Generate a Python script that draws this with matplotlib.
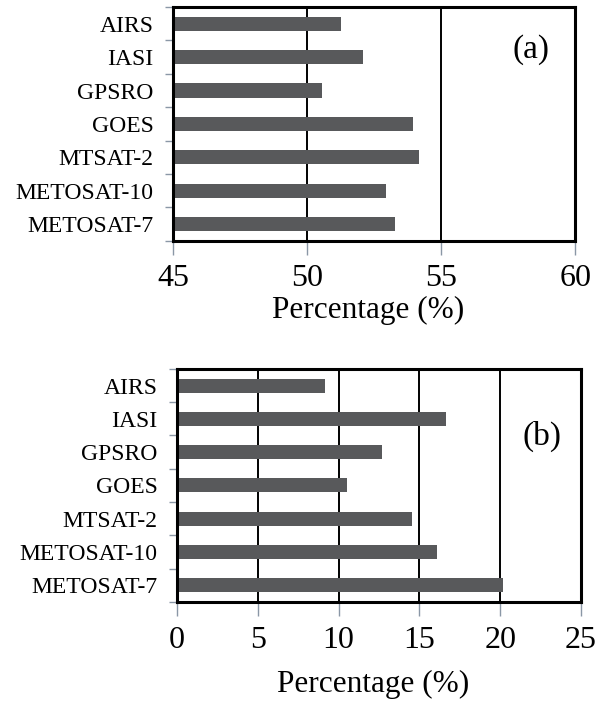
import matplotlib
matplotlib.use("Agg")
import matplotlib.pyplot as plt
import numpy as np

plt.rcParams['font.family'] = ['Liberation Serif', 'DejaVu Serif']

categories = ["AIRS", "IASI", "GPSRO", "GOES", "MTSAT-2", "METOSAT-10", "METOSAT-7"]
values_a = [51.25, 52.07, 50.57, 53.96, 54.18, 52.96, 53.28]
values_b = [9.13, 16.63, 12.69, 10.50, 14.52, 16.09, 20.15]
xticks_a = [45, 50, 55, 60]
xticks_b = [0, 5, 10, 15, 20, 25]
panel_labels = ["(a)", "(b)"]

BAR_COLOR = "#58595b"
TICK_COLOR = "#8a97a6"

fig = plt.figure(figsize=(6.01, 7.02), dpi=100)
ax_a = fig.add_axes([0.288, 0.657, 0.669, 0.333])
ax_b = fig.add_axes([0.2945, 0.1425, 0.6722, 0.332])


def draw_panel(ax, values, xticks, label, label_xy, xlabel_y):
    y = np.arange(len(categories))
    ax.barh(y, values, height=0.42, color=BAR_COLOR, zorder=3)
    ax.set_xlim(xticks[0], xticks[-1])
    ax.set_ylim(len(categories) - 0.5, -0.5)
    ax.set_xticks(xticks)
    ax.set_xticklabels([str(t) for t in xticks], fontsize=23)
    for t in xticks[1:-1]:
        ax.axvline(t, color="black", lw=1.4, zorder=2)
    # category labels centred on bars, tick marks between categories
    ax.set_yticks(y)
    ax.set_yticklabels(categories, fontsize=17)
    ax.tick_params(axis="y", which="major", length=0, pad=14)
    ax.set_yticks(np.arange(len(categories) + 1) - 0.5, minor=True)
    ax.tick_params(axis="y", which="minor", length=6, width=1, color=TICK_COLOR)
    ax.tick_params(axis="x", length=10, width=1, color=TICK_COLOR, pad=7)
    for s in ax.spines.values():
        s.set_linewidth(2.2)
        s.set_color("black")
        s.set_zorder(4)
    ax.set_xlabel("Percentage (%)", fontsize=22.5)
    ax.xaxis.label.set_va("center")
    ax.xaxis.set_label_coords(0.485, xlabel_y)
    ax.text(label_xy[0], label_xy[1], label, transform=ax.transAxes,
            fontsize=24, ha="center", va="center")


draw_panel(ax_a, values_a, xticks_a, panel_labels[0], (0.89, 0.816), -0.30)
draw_panel(ax_b, values_b, xticks_b, panel_labels[1], (0.903, 0.71), -0.355)

fig.savefig("out.png", dpi=100)
